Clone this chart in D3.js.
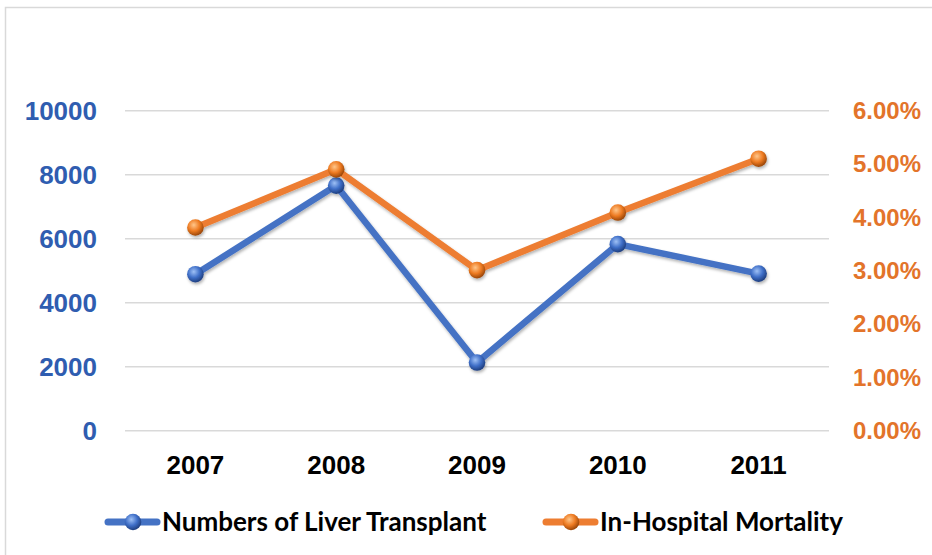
<!DOCTYPE html>
<html>
<head>
<meta charset="utf-8">
<script src="https://cdn.jsdelivr.net/npm/d3@7"></script>
<style>
  html, body { margin: 0; padding: 0; background: #fff; }
  svg { display: block; font-family: 'Lato', sans-serif; font-weight: bold; }
</style>
</head>
<body>
<div id="chart"></div>
<script>
// data
const years = ['2007', '2008', '2009', '2010', '2011']
const transplants = [4890, 7660, 2130, 5830, 4910]
const mortality = [0.0381, 0.0490, 0.0301, 0.0409, 0.0510]
const leftTicks = [0, 2000, 4000, 6000, 8000, 10000]
const rightTicks = [0, 0.01, 0.02, 0.03, 0.04, 0.05, 0.06]
const seriesNames = ['Numbers of Liver Transplant', 'In-Hospital Mortality']

const W = 932
const H = 555
const blue = '#4472c4'
const orange = '#ed7d31'

const svg = d3.select('#chart')
  .append('svg')
  .attr('width', W)
  .attr('height', H)

// frame (only top + left edge visible in the crop)
svg.append('path')
  .attr('d', `M5.5,${H} V7.5 H${W}`)
  .attr('fill', 'none')
  .attr('stroke', '#d9d9d9')
  .attr('stroke-width', 1.5)

const defs = svg.append('defs')

// **сферичні маркери**
function sphere (id, light, mid, dark) {
  const g = defs.append('radialGradient')
    .attr('id', id)
    .attr('cx', '40%').attr('cy', '35%').attr('r', '65%')
  g.append('stop').attr('offset', '0%').attr('stop-color', light)
  g.append('stop').attr('offset', '55%').attr('stop-color', mid)
  g.append('stop').attr('offset', '100%').attr('stop-color', dark)
}
sphere('ball-blue', '#9ec0f5', '#3f6fc8', '#1f3f80')
sphere('ball-orange', '#ffc68a', '#ee7b22', '#9a4608')

const shadow = defs.append('filter')
  .attr('id', 'shadow')
  .attr('x', '-10%').attr('y', '-10%').attr('width', '120%').attr('height', '130%')
shadow.append('feDropShadow')
  .attr('dx', 1).attr('dy', 2)
  .attr('stdDeviation', 1.5)
  .attr('flood-color', '#000')
  .attr('flood-opacity', 0.3)

// **шкали**
const x = d3.scaleBand()
  .domain(years)
  .range([125, 829])

const yLeft = d3.scaleLinear()
  .domain([0, 10000])
  .range([430.7, 110.7])

const yRight = d3.scaleLinear()
  .domain([0, 0.06])
  .range([430.7, 110.7])

// gridlines
svg.append('g')
  .selectAll('line')
  .data(leftTicks)
  .join('line')
  .attr('x1', x.range()[0])
  .attr('x2', x.range()[1])
  .attr('y1', d => yLeft(d))
  .attr('y2', d => yLeft(d))
  .attr('stroke', '#d9d9d9')
  .attr('stroke-width', 1.5)

// left axis
const leftAxis = svg.append('g')
  .attr('transform', 'translate(97,0)')
  .call(d3.axisLeft(yLeft).tickValues(leftTicks).tickSize(0).tickPadding(0).tickFormat(d3.format('d')))
leftAxis.select('.domain').remove()
leftAxis.selectAll('text')
  .attr('fill', '#2f5db0')
  .style('font-size', '26px')
  .style('font-family', null)

// right axis
const rightAxis = svg.append('g')
  .attr('transform', 'translate(853,0)')
  .call(d3.axisRight(yRight).tickValues(rightTicks).tickSize(0).tickPadding(0).tickFormat(d3.format('.2%')))
rightAxis.select('.domain').remove()
rightAxis.selectAll('text')
  .attr('fill', '#e3742a')
  .style('font-size', '24px')
  .style('font-family', null)

// x axis
const xAxis = svg.append('g')
  .attr('transform', 'translate(0,456)')
  .call(d3.axisBottom(x).tickSize(0).tickPadding(0))
xAxis.select('.domain').remove()
xAxis.selectAll('text')
  .attr('fill', '#000')
  .style('font-size', '26px')
  .style('font-family', null)

// **лінії**
const series = [
  { name: seriesNames[0], values: transplants, y: yLeft, color: blue, ball: 'ball-blue' },
  { name: seriesNames[1], values: mortality, y: yRight, color: orange, ball: 'ball-orange' }
]

series.forEach(s => {
  const pts = years.map((yr, i) => [x(yr) + x.bandwidth() / 2, s.y(s.values[i])])
  const g = svg.append('g').attr('filter', 'url(#shadow)')

  g.append('path')
    .datum(pts)
    .attr('fill', 'none')
    .attr('stroke', s.color)
    .attr('stroke-width', 6.5)
    .attr('stroke-linejoin', 'round')
    .attr('stroke-linecap', 'round')
    .attr('d', d3.line())

  g.selectAll('circle')
    .data(pts)
    .join('circle')
    .attr('cx', d => d[0])
    .attr('cy', d => d[1])
    .attr('r', 8.3)
    .attr('fill', `url(#${s.ball})`)
})

// **легенда**
const legendItems = [
  { x: 105, color: blue, ball: 'ball-blue', name: seriesNames[0] },
  { x: 543, color: orange, ball: 'ball-orange', name: seriesNames[1] }
]
const legend = svg.append('g').attr('transform', 'translate(0,522)')

legendItems.forEach(item => {
  const row = legend.append('g').attr('transform', `translate(${item.x},0)`)
  row.append('line')
    .attr('x1', 3).attr('x2', 52)
    .attr('stroke', item.color)
    .attr('stroke-width', 7)
    .attr('stroke-linecap', 'round')
  row.append('circle')
    .attr('cx', 28)
    .attr('r', 8.3)
    .attr('fill', `url(#${item.ball})`)
  row.append('text')
    .attr('x', 57)
    .attr('y', 9)
    .style('font-size', '26px')
    .attr('fill', '#000')
    .text(item.name)
})
</script>
</body>
</html>
